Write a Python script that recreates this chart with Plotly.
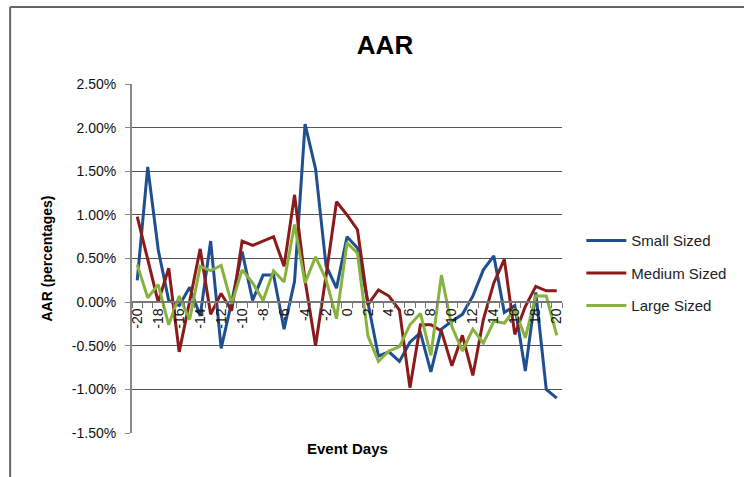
import plotly.graph_objects as go

days = list(range(-20, 21))
small_sized = [0.25, 1.55, 0.60, 0.02, -0.04, 0.17, -0.16, 0.70, -0.53, 0.00,
               0.58, 0.02, 0.31, 0.31, -0.31, 0.24, 2.04, 1.53, 0.42, 0.16,
               0.75, 0.62, -0.01, -0.62, -0.57, -0.68, -0.46, -0.35, -0.80, -0.31,
               -0.22, -0.14, 0.07, 0.37, 0.53, -0.12, -0.04, -0.79, 0.11, -1.00, -1.10]
medium_sized = [0.98, 0.50, 0.00, 0.39, -0.57, 0.01, 0.61, -0.14, 0.10, -0.10,
                0.70, 0.65, 0.70, 0.75, 0.41, 1.23, 0.25, -0.50, 0.30, 1.15,
                1.00, 0.83, -0.03, 0.14, 0.07, -0.09, -0.98, -0.26, -0.26, -0.33,
                -0.73, -0.38, -0.84, -0.20, 0.22, 0.49, -0.37, -0.05, 0.18, 0.13, 0.13]
large_sized = [0.43, 0.05, 0.20, -0.26, 0.07, -0.20, 0.41, 0.36, 0.42, -0.02,
               0.37, 0.22, 0.02, 0.36, 0.23, 0.89, 0.22, 0.52, 0.26, -0.19,
               0.68, 0.56, -0.39, -0.68, -0.56, -0.51, -0.26, -0.13, -0.61, 0.31,
               -0.28, -0.56, -0.31, -0.47, -0.22, -0.24, -0.08, -0.41, 0.07, 0.07, -0.38]
tick_days = list(range(-20, 21, 2))
y_ticks = [-1.5, -1.0, -0.5, 0.0, 0.5, 1.0, 1.5, 2.0, 2.5]

series = [("Small Sized", small_sized, "#1f4f8f"),
          ("Medium Sized", medium_sized, "#8b1a1a"),
          ("Large Sized", large_sized, "#88b23e")]

fig = go.Figure()
for i, (name, vals, col) in enumerate(series):
    fig.add_trace(go.Scatter(x=days, y=vals, mode="lines", name=name,
                             legendgroup=str(i),
                             line=dict(color=col, width=3)))

font_txt = "Liberation Sans, Arial, sans-serif"

fig.update_layout(
    width=744, height=477,
    margin=dict(l=132, r=178, t=84, b=44),
    paper_bgcolor="white", plot_bgcolor="white",
    title=dict(text="<b>AAR</b>", x=385/744, xref="container", xanchor="center",
               y=1 - 45/477, yref="container", yanchor="middle",
               font=dict(family=font_txt, size=26, color="#000")),
    showlegend=True,
    legend=dict(x=1.045, xanchor="left", y=0.458, yanchor="middle",
                font=dict(family=font_txt, size=15, color="#222"),
                itemwidth=40,
                tracegroupgap=10, bgcolor="rgba(0,0,0,0)"),
    xaxis=dict(range=[-20.5, 20.5], tickmode="array", tickvals=tick_days,
               ticktext=[str(d) for d in tick_days], tickangle=-90,
               tickfont=dict(family=font_txt, size=14, color="#111"),
               showgrid=False, zeroline=False, showline=True,
               linecolor="#777", linewidth=1.5, ticks="",
               anchor="free", position=0.375,
               minor=dict(tickmode="linear", tick0=-20.5, dtick=1,
                          ticks="outside", ticklen=5, tickcolor="#777",
                          showgrid=False)),
    yaxis=dict(range=[-1.5, 2.5], tickmode="array", tickvals=y_ticks,
               ticktext=[f"{v:.2f}%" for v in y_ticks],
               tickfont=dict(family=font_txt, size=14, color="#111"),
               showgrid=True, gridcolor="#555", gridwidth=1,
               zeroline=False, showline=True, linecolor="#888", linewidth=2,
               ticks="outside", ticklen=5, tickcolor="#888",
               ticklabelstandoff=6,
               title=dict(text="<b>AAR (percentages)</b>", standoff=16,
                          font=dict(family=font_txt, size=14, color="#000"))),
    annotations=[dict(text="<b>Event Days</b>", x=0.5, xref="paper",
                      y=(433 - 449) / 349, yref="paper", showarrow=False,
                      xanchor="center", yanchor="middle",
                      font=dict(family=font_txt, size=15, color="#000"))],
    shapes=[dict(type="line", xref="paper", yref="paper",
                 x0=(9 - 132) / 434, x1=(9 - 132) / 434,
                 y0=(433 - 7) / 349, y1=-0.3,
                 line=dict(color="#666", width=2)),
            dict(type="line", xref="paper", yref="paper",
                 x0=(9 - 132) / 434, x1=1.6,
                 y0=(433 - 7) / 349, y1=(433 - 7) / 349,
                 line=dict(color="#666", width=2))],
)

fig.write_html("out.html", config={"displayModeBar": False},
               post_script="document.body.style.margin='0px';")
